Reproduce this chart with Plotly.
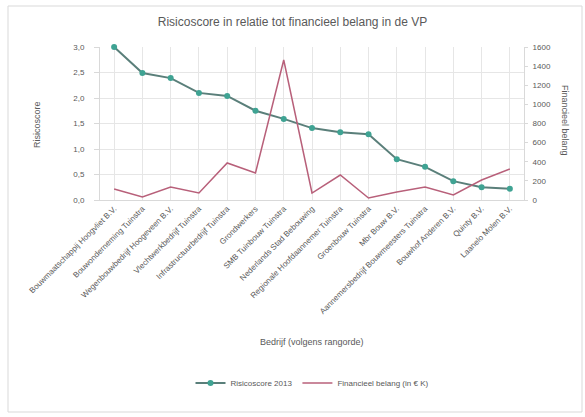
import plotly.graph_objects as go

# data
bedrijven = [
    "Bouwmaatschappij Hoogvliet B.V.",
    "Bouwonderneming Tuinstra",
    "Wegenbouwbedrijf Hoogeveen B.V.",
    "Vlechtwerkbedrijf Tuinstra",
    "Infrastructuurbedrijf Tuinstra",
    "Grondwerkers",
    "SMB Tuinbouw Tuinstra",
    "Nederlands Stad Bebouwing",
    "Regionale Hoofdaannemer Tuinstra",
    "Groenbouw Tuinstra",
    "Mbr Bouw B.V.",
    "Aannemersbedrijf Bouwmeesters Tuinstra",
    "Bouwhof Anderen B.V.",
    "Quinty B.V.",
    "Laanelo Molen B.V.",
]
risicoscore = [3.0, 2.49, 2.39, 2.10, 2.04, 1.75, 1.59, 1.41, 1.33, 1.29, 0.80, 0.65, 0.37, 0.25, 0.22]
financieel_belang = [115, 31, 136, 73, 387, 282, 1464, 73, 261, 21, 84, 136, 52, 209, 324]

FONT = "Liberation Sans"
W, H = 585, 417
L, R, T, B = 100, 61, 47, 217  # plot area 100..524 x 47..200

fig = go.Figure()
fig.add_trace(go.Scatter(
    x=bedrijven, y=risicoscore, name="Risicoscore 2013",
    mode="lines+markers",
    line=dict(color="#5a7f7a", width=2),
    marker=dict(color="#3fa393", size=6),
    yaxis="y", cliponaxis=False,
))
fig.add_trace(go.Scatter(
    x=bedrijven, y=financieel_belang, name="Financieel belang (in € K)",
    mode="lines",
    line=dict(color="#b8607a", width=1.5),
    yaxis="y2",
))

fig.update_layout(
    width=W, height=H,
    paper_bgcolor="white", plot_bgcolor="white",
    font=dict(family=FONT, size=8, color="#595959"),
    separators=",.",
    title=dict(text="Risicoscore in relatie tot financieel belang in de VP",
               x=0.5, xanchor="center", y=1 - 22 / H, yanchor="middle",
               font=dict(size=12, color="#595959")),
    margin=dict(l=L, r=R, t=T, b=B, autoexpand=False),
    showlegend=True,
    legend=dict(orientation="h", x=0.5, xanchor="center",
                yref="container", y=1 - 383 / H, yanchor="middle",
                font=dict(size=8), bgcolor="rgba(0,0,0,0)"),
    xaxis=dict(
        range=[-0.5, len(bedrijven) - 0.5],
        tickangle=-45, automargin=False,
        showgrid=True, gridcolor="#e6e6e6",
        showline=True, linecolor="#d9d9d9",
        tickfont=dict(size=8),
    ),
    yaxis=dict(
        range=[0, 3], dtick=0.5, tickformat=".1f", automargin=False,
        showgrid=True, gridcolor="#e6e6e6",
        showline=True, linecolor="#d9d9d9", zeroline=False,
        ticks="outside", ticklen=5, tickcolor="#d9d9d9",
        ticklabelstandoff=8,
    ),
    yaxis2=dict(
        range=[0, 1600], dtick=200, overlaying="y", side="right", automargin=False,
        showgrid=False, showline=True, linecolor="#d9d9d9", zeroline=False,
        ticks="outside", ticklen=3, tickcolor="#d9d9d9",
        ticklabelstandoff=3,
    ),
)

pw, ph = W - L - R, H - T - B

# astitels als losse annotaties op de plek uit het origineel
fig.add_annotation(text="Bedrijf (volgens rangorde)", x=0.5, xref="paper",
                   y=-(349 - (H - B)) / ph, yref="paper", showarrow=False,
                   font=dict(size=9, color="#595959"))
fig.add_annotation(text="Risicoscore", textangle=-90, x=-(L - 30) / pw, xref="paper",
                   y=1 - (125 - T) / ph, yref="paper", showarrow=False,
                   font=dict(size=9, color="#595959"))
fig.add_annotation(text="Financieel belang", textangle=90, x=1 + (572 - (W - R)) / pw,
                   xref="paper", y=1 - (120 - T) / ph, yref="paper", showarrow=False,
                   font=dict(size=9, color="#595959"))

# buitenrand rond de grafiek
fig.add_shape(type="rect", xref="paper", yref="paper",
              x0=-(L - 8) / pw, x1=1 + (R - 3) / pw,
              y0=-(412 - (H - B)) / ph, y1=1 + (T - 6) / ph,
              line=dict(color="#d9d9d9", width=1))

# body-marge van de browser weghalen, geen modebar
fig.write_html("out.html", config={"displayModeBar": False},
               post_script="document.body.style.margin='0px';")
